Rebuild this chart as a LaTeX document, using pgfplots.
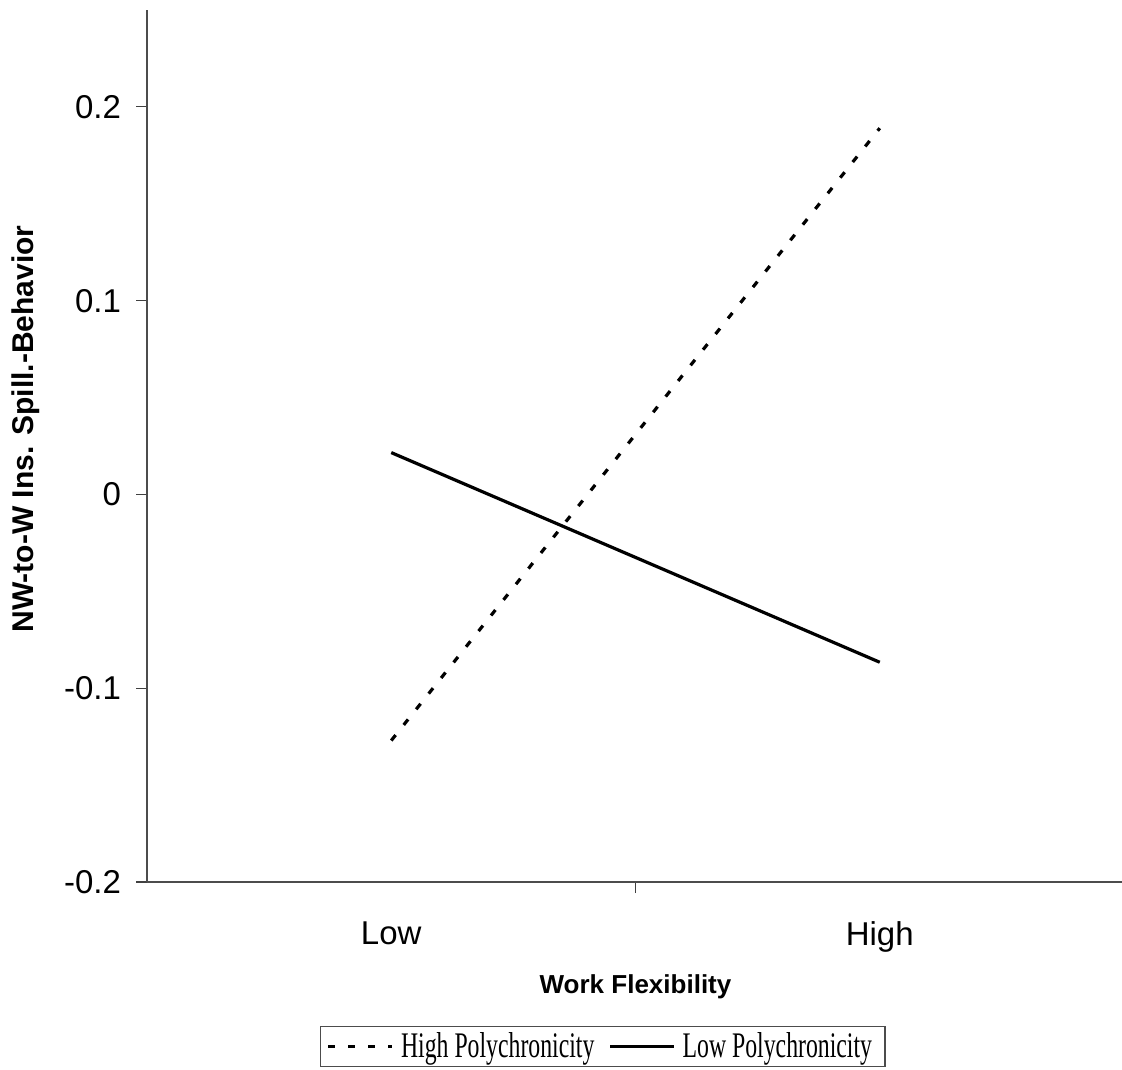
\documentclass[border=0pt]{standalone}
\usepackage{fontspec}
\setmainfont{Liberation Sans}
\newfontfamily\legfont[FakeStretch=0.66]{Liberation Serif}
\usepackage{pgfplots}
\pgfplotsset{compat=1.18}
\begin{document}
\begin{tikzpicture}
\path[use as bounding box] (0,0) rectangle (561pt,534.5pt);
\begin{axis}[
  at={(73.5pt,93.5pt)}, anchor=south west,
  scale only axis, width=488.5pt, height=436pt,
  xmin=0.5, xmax=2.5, ymin=-0.2, ymax=0.25,
  axis x line*=bottom, axis y line*=left,
  axis line style={draw=black!70, line width=0.7pt, -},
  xtick={1.5}, xticklabels={},
  extra x ticks={1,2}, extra x tick labels={Low,High},
  extra x tick style={tick style={draw=none}},
  ytick={-0.2,-0.1,0,0.1,0.2},
  yticklabels={-0.2,-0.1,0,0.1,0.2},
  tick align=outside,
  major tick length=5.5pt,
  tick style={draw=black!75, line width=0.6pt},
  /pgf/number format/assume math mode=true,
  tick label style={font=\fontsize{16.5}{19}\selectfont},
  yticklabel style={xshift=-4pt},
  xticklabel style={yshift=-11pt},
  xlabel={\textbf{Work Flexibility}},
  xlabel style={font=\fontsize{13}{15}\selectfont, yshift=1.5pt},
  ylabel={\textbf{NW-to-W Ins. Spill.-Behavior}},
  ylabel style={font=\fontsize{15}{18}\selectfont, xshift=8.5pt, yshift=5.5pt},
  legend columns=2,
  legend style={at={(0.4667,0)}, anchor=north, yshift=-72pt,
    font=\legfont\fontsize{18}{21}\selectfont, draw=black!70, line width=0.6pt,
    inner xsep=3pt, inner ysep=1pt,
    nodes={inner xsep=3.5pt},
    /tikz/every even column/.append style={column sep=3.5pt}},
  legend image code/.code={\draw[#1] (0pt,0pt) -- (32pt,0pt);},
]
\addplot[black, line width=1.6pt, dash pattern=on 3.5pt off 6.5pt] coordinates {(1,-0.127) (2,0.189)};
\addlegendentry{High Polychronicity}
\addplot[black, line width=1.6pt] coordinates {(1,0.0216) (2,-0.0866)};
\addlegendentry{Low Polychronicity}
\end{axis}
\end{tikzpicture}
\end{document}
